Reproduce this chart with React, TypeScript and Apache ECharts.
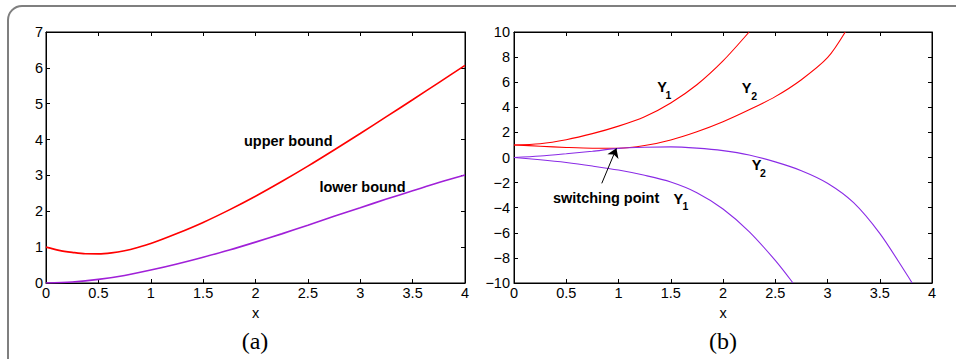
import React, { useEffect, useRef } from "react";
import * as echarts from "echarts";

// Panel (a)
const xUpper = [0, 0.125, 0.25, 0.375, 0.5, 0.625, 0.75, 0.875, 1, 1.25, 1.5, 1.75, 2, 2.25, 2.5, 2.75, 3, 3.25, 3.5, 3.75, 4];
const upperBound = [1.0, 0.91, 0.855, 0.815, 0.812, 0.84, 0.9, 0.99, 1.1, 1.38, 1.69, 2.04, 2.42, 2.83, 3.26, 3.71, 4.17, 4.64, 5.11, 5.59, 6.07];
const xLower = [0, 0.25, 0.5, 0.75, 1, 1.25, 1.5, 1.75, 2, 2.25, 2.5, 2.75, 3, 3.25, 3.5, 3.75, 4];
const lowerBound = [0, 0.03, 0.1, 0.21, 0.36, 0.53, 0.72, 0.92, 1.14, 1.37, 1.61, 1.86, 2.1, 2.34, 2.57, 2.8, 3.01];

// Panel (b)
const xRedY1 = [0, 0.25, 0.5, 0.75, 1, 1.25, 1.5, 1.75, 2, 2.25];
const redY1 = [1, 1.1, 1.42, 1.9, 2.5, 3.25, 4.35, 5.8, 7.7, 10];
const xRedY2 = [0, 0.25, 0.5, 0.75, 1, 1.25, 1.5, 1.75, 2, 2.25, 2.5, 2.75, 3, 3.17];
const redY2 = [1, 0.9, 0.8, 0.74, 0.74, 0.95, 1.4, 2.05, 2.85, 3.8, 4.85, 6.2, 7.95, 10];
const xPurpleY2 = [0, 0.25, 0.5, 0.75, 1, 1.25, 1.5, 1.75, 2, 2.25, 2.5, 2.75, 3, 3.25, 3.5, 3.75, 3.81];
const purpleY2 = [0, 0.12, 0.3, 0.5, 0.73, 0.82, 0.85, 0.75, 0.55, 0.2, -0.35, -1.05, -2.05, -3.6, -6.05, -9.2, -10];
const xPurpleY1 = [0, 0.25, 0.5, 0.75, 1, 1.25, 1.5, 1.75, 2, 2.25, 2.5, 2.67];
const purpleY1 = [0, -0.18, -0.4, -0.68, -1.0, -1.42, -1.95, -2.8, -4.1, -5.9, -8.2, -10];

const switchArrow = [[0.84, -2.06], [0.98, 0.73]];

const pairs = (xs: number[], ys: number[]) => xs.map((x, i) => [x, ys[i]]);

const RED = "#ff0000";
const PURPLE_A = "#a020d8";
const PURPLE_B = "#8a2be6";
const FONT = "'Liberation Sans', Arial, Helvetica, sans-serif";

const tickStyle = { show: true, inside: true, length: 4, lineStyle: { color: "#000", width: 1 } };
const lineOpt = { show: true, onZero: false, lineStyle: { color: "#000", width: 1 } };

function axesFor(grid: number, ymin: number, ymax: number, yint: number, neg: boolean) {
  const xs = [
    {
      type: "value", gridIndex: grid, position: "bottom", min: 0, max: 4, interval: 0.5,
      axisLine: lineOpt, axisTick: tickStyle, splitLine: { show: false },
      axisLabel: { color: "#000", fontFamily: FONT, fontSize: 14.5, lineHeight: 10, margin: 5 },
      name: "x", nameLocation: "middle", nameGap: 15,
      nameTextStyle: { color: "#000", fontFamily: FONT, fontSize: 14.5, lineHeight: 10 },
    },
    {
      type: "value", gridIndex: grid, position: "top", min: 0, max: 4, interval: 0.5,
      axisLine: lineOpt, axisTick: tickStyle, splitLine: { show: false }, axisLabel: { show: false },
    },
  ];
  const ys = [
    {
      type: "value", gridIndex: grid, position: "left", min: ymin, max: ymax, interval: yint,
      axisLine: lineOpt, axisTick: tickStyle, splitLine: { show: false },
      axisLabel: {
        color: "#000", fontFamily: FONT, fontSize: 14.5, lineHeight: 10, margin: neg ? 4 : 3,
        formatter: (v: number) => String(v).replace("-", "\u2212"),
      },
    },
    {
      type: "value", gridIndex: grid, position: "right", min: ymin, max: ymax, interval: yint,
      axisLine: lineOpt, axisTick: tickStyle, splitLine: { show: false }, axisLabel: { show: false },
    },
  ];
  return { xs, ys };
}

// annotations in data coordinates: [grid, x, y, text, fontSize]
const annotations: [number, number, number, string, number][] = [
  [0, 1.89, 3.96, "upper bound", 14.5],
  [0, 2.61, 2.68, "lower bound", 14.5],
  [1, 1.37, 5.62, "Y", 14.5],
  [1, 1.45, 5.0, "1", 10.5],
  [1, 2.18, 5.51, "Y", 14.5],
  [1, 2.27, 4.88, "2", 10.5],
  [1, 2.275, -0.62, "Y", 14.5],
  [1, 2.355, -1.26, "2", 10.5],
  [1, 1.526, -3.29, "Y", 14.5],
  [1, 1.612, -3.89, "1", 10.5],
  [1, 0.373, -3.19, "switching point", 14.5],
];

export default function App() {
  const ref = useRef<HTMLDivElement>(null);
  useEffect(() => {
    if (!ref.current) return;
    const chart = echarts.init(ref.current, null, { renderer: "svg" });
    const a = axesFor(0, 0, 7, 1, false);
    const b = axesFor(1, -10, 10, 2, true);
    const lineSeries = (name: string, data: number[][], color: string, width: number, xi: number, yi: number, extra: any = {}) => ({
      type: "line", name, data, xAxisIndex: xi, yAxisIndex: yi,
      showSymbol: false, symbol: "none", smooth: 0.3, clip: true,
      lineStyle: { color, width }, z: 3, ...extra,
    });
    chart.setOption({
      animation: false,
      grid: [
        { left: 46, top: 32, width: 419, height: 251, show: true, borderColor: "#000", borderWidth: 1, backgroundColor: "transparent" },
        { left: 514, top: 32, width: 418, height: 251, show: true, borderColor: "#000", borderWidth: 1, backgroundColor: "transparent" },
      ],
      xAxis: [...a.xs, ...b.xs],
      yAxis: [...a.ys, ...b.ys],
      series: [
        lineSeries("upper bound", pairs(xUpper, upperBound), RED, 1.6, 0, 0),
        lineSeries("lower bound", pairs(xLower, lowerBound), PURPLE_A, 1.6, 0, 0),
        lineSeries("Y1 red", pairs(xRedY1, redY1), RED, 1.1, 2, 2),
        lineSeries("Y2 red", pairs(xRedY2, redY2), RED, 1.1, 2, 2),
        lineSeries("Y1 purple", pairs(xPurpleY1, purpleY1), PURPLE_B, 1.1, 2, 2),
        lineSeries("Y2 purple", pairs(xPurpleY2, purpleY2), PURPLE_B, 1.1, 2, 2, {
          markLine: {
            silent: true, symbol: ["none", "arrow"], symbolSize: 9,
            label: { show: false },
            lineStyle: { color: "#000", width: 1, type: "solid" },
            data: [[{ coord: switchArrow[0] }, { coord: switchArrow[1] }]],
          },
        }),
      ],
    });
    const texts = annotations.map(([g, x, y, t, fs]) => {
      const p = chart.convertToPixel({ xAxisIndex: g * 2, yAxisIndex: g * 2 }, [x, y]) as number[];
      return {
        type: "text", x: p[0], y: p[1], z: 10,
        style: { text: t, fill: "#000", font: `bold ${fs}px ${FONT}`, align: "left", verticalAlign: "middle" },
      };
    });
    chart.setOption({
      graphic: [
        {
          type: "rect", shape: { x: 8, y: 6, width: 1000, height: 500, r: 14 },
          style: { fill: "none", stroke: "#7f7f7f", lineWidth: 2 }, z: 0, silent: true,
        },
        ...texts,
        {
          type: "text", x: 255, y: 341, z: 10,
          style: { text: "(a)", fill: "#000", font: "24px 'Liberation Serif', 'DejaVu Serif', serif", align: "center", verticalAlign: "middle" },
        },
        {
          type: "text", x: 723, y: 341, z: 10,
          style: { text: "(b)", fill: "#000", font: "24px 'Liberation Serif', 'DejaVu Serif', serif", align: "center", verticalAlign: "middle" },
        },
      ],
    });
    return () => chart.dispose();
  }, []);
  return (
    <div
      ref={ref}
      style={{ position: "absolute", left: 0, top: 0, width: 956, height: 359, background: "#fff" }}
    />
  );
}
